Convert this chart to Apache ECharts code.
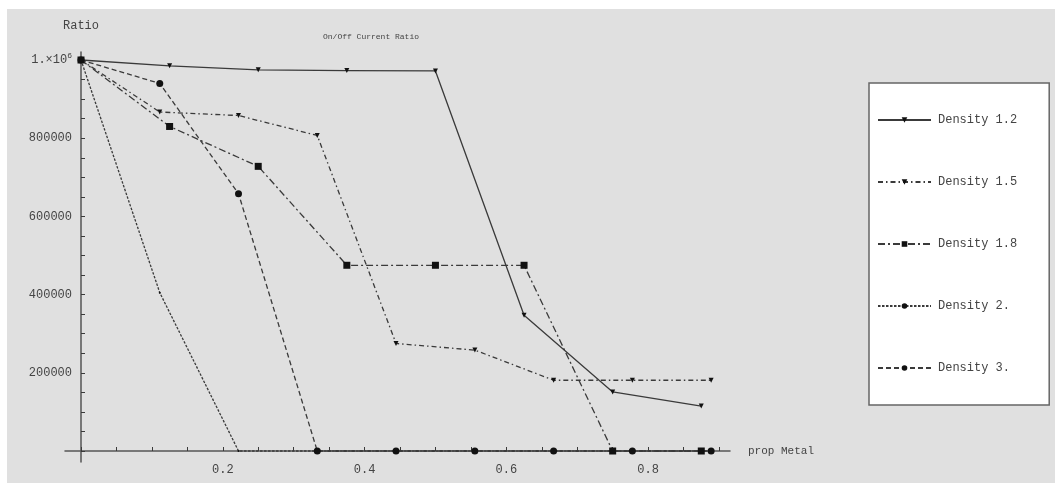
<!DOCTYPE html>
<html><head><meta charset="utf-8">
<script src="https://cdn.jsdelivr.net/npm/echarts@6/dist/echarts.min.js"></script>
<style>
html,body{margin:0;padding:0;background:#fff;}
#bg{position:absolute;left:7px;top:9px;width:1048px;height:474px;background:#e0e0e0;}
#c{position:absolute;left:0;top:0;width:1062px;height:491px;}
</style></head>
<body><div id="bg"></div><div id="c"></div>
<script>
// ---- data ----
const xEighths = [0, 0.125, 0.25, 0.375, 0.5, 0.625, 0.75, 0.875];
const xNinths = [0, 0.1111, 0.2222, 0.3333, 0.4444, 0.5556, 0.6667, 0.7778, 0.8889];
const density12 = [1000000, 985000, 975000, 973000, 972000, 347000, 151000, 115000];
const density15 = [1000000, 867000, 858000, 807000, 275000, 258000, 181000, 181000, 181000];
const density18 = [1000000, 830000, 728000, 475000, 475000, 475000, 0, 0];
const density2  = [1000000, 405000, 0, 0, 0, 0, 0, 0, 0];
const density3  = [1000000, 940000, 658000, 0, 0, 0, 0, 0, 0];
const seriesNames = ['Density 1.2', 'Density 1.5', 'Density 1.8', 'Density 2.', 'Density 3.'];
const xTickLabels = [0.2, 0.4, 0.6, 0.8];
const yTickLabels = [200000, 400000, 600000, 800000, 1000000];

function pairs(xs, ys){ return xs.map((x,i)=>[x, ys[i]]); }

const ink = '#3a3a3a';
const font = 'Liberation Mono';

const chart = echarts.init(document.getElementById('c'), null, {renderer:'canvas'});

function mkSeries(name, xs, ys, dash, symbol, size, rot){
  return {
    name, type:'line', xAxisIndex:0, yAxisIndex:0, data: pairs(xs, ys),
    symbol, symbolSize:size, symbolRotate: rot||0, clip:false,
    lineStyle:{color:ink, width:1.3, type:dash},
    itemStyle:{color:'#111'},
    emphasis:{disabled:true}, animation:false
  };
}

chart.setOption({
  animation:false,
  title:{text:'On/Off Current Ratio', left:318, top:28,
    textStyle:{fontFamily:font, fontSize:8, fontWeight:'normal', color:'#444'}},
  legend:{
    orient:'vertical', left:869, top:83,
    backgroundColor:'#ffffff', borderColor:'#666', borderWidth:1.5,
    padding:[31, 32, 31, 8], itemGap:50, itemWidth:53, itemHeight:7,
    textStyle:{fontFamily:font, fontSize:12, color:'#444', padding:[0,0,0,2]},
    data: seriesNames
  },
  grid:[
    {left:81, top:60, width:638, height:391},
    {left:65, top:52, width:665, height:410}
  ],
  xAxis:[
    {type:'value', gridIndex:0, min:0, max:0.9, interval:0.05,
     axisLine:{show:false}, splitLine:{show:false},
     axisTick:{show:true, inside:true, length:4, lineStyle:{color:ink}},
     axisLabel:{margin:13, fontFamily:font, fontSize:12, color:'#444',
       formatter:v=>{ const t=xTickLabels.find(a=>Math.abs(a-v)<1e-6); return t!==undefined? t.toFixed(1):''; }}},
    {type:'value', gridIndex:1, min:-0.02257, max:0.9155,
     axisLine:{show:true, onZero:true, lineStyle:{color:'#555', width:1.5}},
     axisTick:{show:false}, axisLabel:{show:false}, splitLine:{show:false},
     name:'prop Metal', nameLocation:'end', nameGap:18,
     nameTextStyle:{fontFamily:font, fontSize:11, color:'#444'}}
  ],
  yAxis:[
    {type:'value', gridIndex:0, min:0, max:1000000, interval:50000,
     axisLine:{show:false}, splitLine:{show:false},
     axisTick:{show:true, inside:true, length:4, lineStyle:{color:ink}},
     axisLabel:{margin:9, fontFamily:font, fontSize:12, color:'#444',
       rich:{s:{fontFamily:font, fontSize:8, color:'#444', verticalAlign:'top', padding:[0,0,8,0]}, a:{fontFamily:font, fontSize:12, color:'#444'}},
       formatter:v=>{ const t=yTickLabels.find(a=>Math.abs(a-v)<1); if(t===undefined) return ''; if(t===1000000) return '{a|1.×10}{s|6}'; return String(t); }}},
    {type:'value', gridIndex:1, min:-28133, max:1020460,
     axisLine:{show:true, onZero:true, lineStyle:{color:'#555', width:1.5}},
     axisTick:{show:false}, axisLabel:{show:false}, splitLine:{show:false},
     name:'Ratio', nameLocation:'end', nameGap:20,
     nameTextStyle:{fontFamily:font, fontSize:12, color:'#444'}}
  ],
  series:[
    mkSeries(seriesNames[0], xEighths, density12, 'solid', 'triangle', 5, 180),
    mkSeries(seriesNames[1], xNinths, density15, [5,3,1.5,3], 'triangle', 5, 180),
    mkSeries(seriesNames[2], xEighths, density18, [7,3,2,3], 'rect', 7),
    mkSeries(seriesNames[3], xNinths, density2, [2.5,1.5], 'circle', 2),
    mkSeries(seriesNames[4], xNinths, density3, [5,3], 'circle', 7)
  ]
});
</script></body></html>
